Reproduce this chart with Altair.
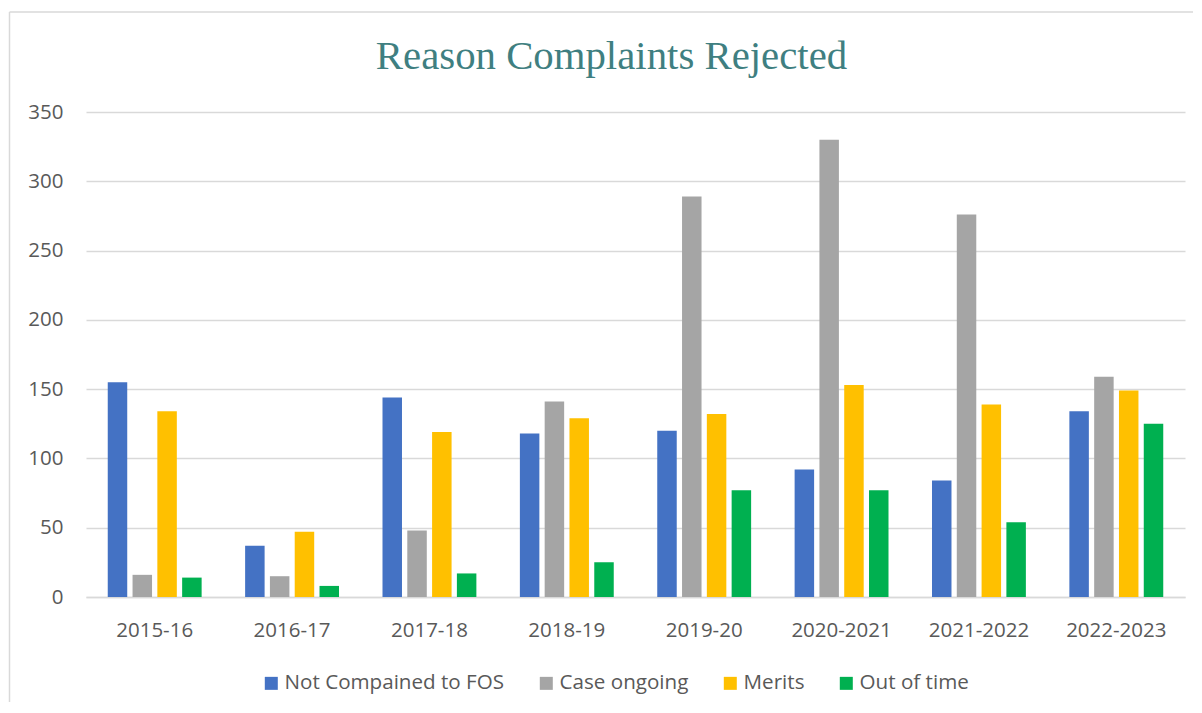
import altair as alt
import pandas as pd

categories = ["2015-16", "2016-17", "2017-18", "2018-19", "2019-20",
              "2020-2021", "2021-2022", "2022-2023"]
series = ["Not Compained to FOS", "Case ongoing", "Merits", "Out of time"]
not_complained = [155, 37, 144, 118, 120, 92, 84, 134]
case_ongoing = [16, 15, 48, 141, 289, 330, 276, 159]
merits = [134, 47, 119, 129, 132, 153, 139, 149]
out_of_time = [14, 8, 17, 25, 77, 77, 54, 125]
colors = ["#4472C4", "#A5A5A5", "#FFC000", "#00B050"]
y_ticks = [0, 50, 100, 150, 200, 250, 300, 350]

values_by_series = [not_complained, case_ongoing, merits, out_of_time]
rows = []
for s, vals in zip(series, values_by_series):
    for c, v in zip(categories, vals):
        rows.append({"Year": c, "Reason": s, "Count": v})
df = pd.DataFrame(rows)

W, H = 1099, 485
FONT = "Open Sans"
LABEL = "#595959"
GRID = "#D9D9D9"

bars = alt.Chart(df).mark_bar().encode(
    x=alt.X("Year:N", sort=categories,
            scale=alt.Scale(paddingInner=0, paddingOuter=0),
            axis=alt.Axis(title=None, labelAngle=0, ticks=False, domain=True,
                          domainColor=GRID, domainWidth=1.5,
                          labelFont=FONT, labelFontSize=20.5, labelColor=LABEL,
                          labelPadding=23)),
    xOffset=alt.XOffset("Reason:N", sort=series,
                        scale=alt.Scale(paddingInner=0.214, paddingOuter=0.877)),
    y=alt.Y("Count:Q", scale=alt.Scale(domain=[0, 350], nice=False),
            axis=alt.Axis(title=None, values=y_ticks, ticks=False, domain=False,
                          grid=True, gridColor=GRID, gridWidth=1.5,
                          labelFont=FONT, labelFontSize=20.5, labelColor=LABEL,
                          labelPadding=23)),
    color=alt.Color("Reason:N", sort=series,
                    scale=alt.Scale(domain=series, range=colors),
                    legend=alt.Legend(title=None, orient="none", direction="horizontal",
                                      legendX=175, legendY=561,
                                      symbolType="square", symbolSize=169,
                                      symbolStrokeWidth=0, labelFont=FONT,
                                      labelFontSize=20.6, labelColor=LABEL,
                                      labelLimit=0,
                                      labelOffset=3, columnPadding=31)),
)

frame_data = alt.Data(values=[{"k": 1}])
left_line = alt.Chart(frame_data).mark_rule(color=GRID, strokeWidth=1.5).encode(
    x=alt.value(-76.5), y=alt.value(-100), y2=alt.value(590))
top_line = alt.Chart(frame_data).mark_rule(color=GRID, strokeWidth=1.5).encode(
    x=alt.value(-76.5), x2=alt.value(1107), y=alt.value(-100))

chart = alt.layer(left_line, top_line, bars).properties(
    width=W, height=H,
    background="white",
    title=alt.TitleParams("Reason Complaints Rejected", font="Liberation Serif",
                          fontSize=40.8, fontWeight="normal", color="#3F7F81",
                          anchor="middle", dx=-24, dy=99, baseline="alphabetic",
                          offset=0),
    autosize=alt.AutoSizeParams(type="none"),
    padding={"left": 78, "top": 104, "right": 8, "bottom": 105},
).configure_view(stroke=None)

chart.save("out.html", embed_options={"renderer": "svg", "actions": False})
